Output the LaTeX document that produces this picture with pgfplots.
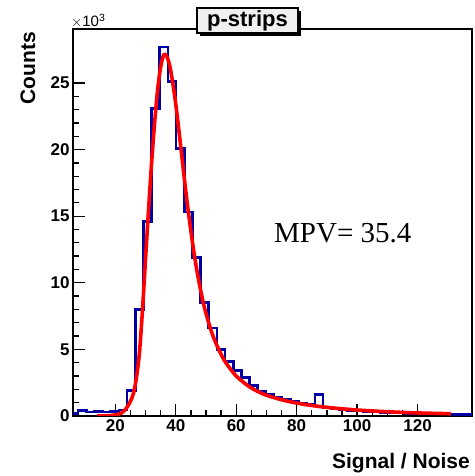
\documentclass[border=0pt]{standalone}
\usepackage{fontspec}
\setmainfont{Liberation Sans}
\newfontfamily\timesfont{Liberation Serif}
\usepackage{pgfplots}
\pgfplotsset{compat=1.18}
\definecolor{histblue}{RGB}{0,0,165}
\definecolor{boxgray}{RGB}{240,240,240}
\begin{document}
\begin{tikzpicture}
\useasboundingbox (0,0) rectangle (474pt,476pt);
\begin{axis}[
  at={(73pt,60pt)}, anchor=south west,
  scale only axis, width=399pt, height=387pt,
  xmin=6, xmax=138, ymin=0, ymax=29.05,
  axis line style={line width=1.6pt},
  xtick={20,40,...,120}, minor x tick num=3,
  ytick={0,5,...,25}, minor y tick num=4,
  tick align=inside, xtick pos=bottom, ytick pos=left,
  major tick length=12pt, minor tick length=6pt,
  every tick/.style={black, line width=1.3pt},
  tick label style={font=\fontsize{17}{17}\selectfont\bfseries},
  /pgf/number format/assume math mode=true,
  clip=true,
]
\addplot[const plot, histblue, line width=2.6pt] coordinates {
 (5,0.2) (7.7,0.4) (10.4,0.3) (13.1,0.35) (15.8,0.3) (18.5,0.35) (21.2,0.45)
 (23.9,1.9) (26.6,8.0) (29.3,14.6) (32,23.1) (34.7,27.7) (37.4,25.1) (40.1,20.1)
 (42.8,15.3) (45.5,11.9) (48.2,8.5) (50.9,6.6) (53.6,5.0) (56.3,4.1) (59,3.4)
 (61.7,2.9) (64.4,2.3) (67.1,1.85) (69.8,1.6) (72.5,1.4) (75.2,1.25) (77.9,1.1)
 (80.6,0.95) (83.3,0.85) (86,1.6) (88.7,0.65) (91.4,0.55) (94.1,0.5) (96.8,0.43)
 (99.5,0.38) (102.2,0.33) (104.9,0.3) (107.6,0.27) (110.3,0.24) (113,0.22)
 (115.7,0.2) (118.4,0.18) (121.1,0.17) (123.8,0.16) (126.5,0.15) (129.2,0.14)
 (131.9,0.13) (134.6,0.12) (137.3,0.11) (140,0.11)
};
\addplot[red, line width=3.6pt, smooth, tension=0.5] coordinates {
 (14,0.0) (16,0.01) (18,0.03) (20,0.08) (21,0.13) (22,0.22) (23,0.4) (24,0.7)
 (25,1.1) (26,1.7) (27,2.9) (28,4.8) (29,8.0) (30,11.8) (31,15.5) (32,19.0)
 (33,22.0) (34,24.5) (35,26.2) (36,27.1) (37,27.0) (38,26.3) (39,25.0) (40,23.4)
 (41,21.5) (42,19.5) (43,17.5) (44,15.6) (45,13.9) (46,12.3) (47,10.9) (48,9.7)
 (49,8.6) (50,7.7) (52,6.2) (54,5.1) (56,4.2) (58,3.55) (60,3.0) (62,2.6)
 (64,2.25) (66,1.97) (68,1.75) (70,1.56) (74,1.28) (78,1.06) (82,0.89) (86,0.76)
 (90,0.65) (95,0.54) (100,0.45) (105,0.38) (110,0.32) (115,0.27) (120,0.23)
 (125,0.2) (131,0.17)
};
\end{axis}
% axis titles and annotations
\node[anchor=base east, font=\fontsize{21}{21}\selectfont\bfseries, inner sep=0pt] at (470pt,8pt) {Signal / Noise};
\node[anchor=base east, rotate=90, font=\fontsize{21}{21}\selectfont\bfseries, inner sep=0pt] at (35pt,444pt) {Counts};
\node[anchor=base west, font=\fontsize{15}{15}\selectfont, inner sep=0pt] at (71pt,449pt) {$\times$10\textsuperscript{3}};
\fill[black] (200pt,440pt) rectangle (301pt,465pt);
\draw[line width=1.4pt, fill=boxgray] (197pt,443pt) rectangle (298pt,468pt);
\node[font=\fontsize{22}{22}\selectfont\bfseries, inner sep=0pt] at (247.5pt,455.5pt) {p-strips};
\node[anchor=base west, font=\fontsize{29}{29}\selectfont\timesfont, inner sep=0pt] at (274pt,233pt) {MPV= 35.4};
\end{tikzpicture}
\end{document}
